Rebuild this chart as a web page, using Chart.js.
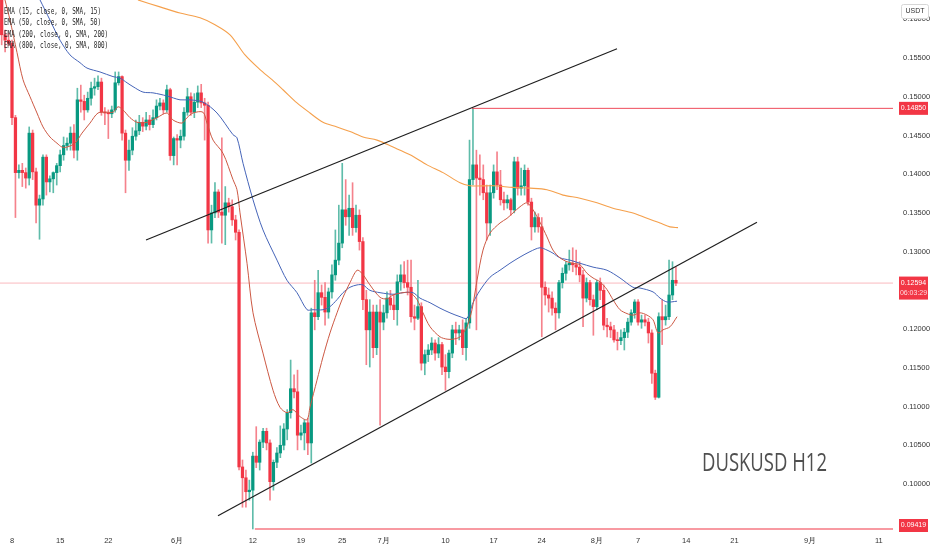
<!DOCTYPE html>
<html><head><meta charset="utf-8">
<script src="https://cdn.jsdelivr.net/npm/chart.js@4.4.1/dist/chart.umd.min.js"></script>
<style>html,body{margin:0;padding:0;background:#fff;}#wrap{width:932px;height:550px;position:relative;}</style>
</head><body><div id="wrap"><canvas id="c"></canvas></div>
<script>
// time axis: days counted from 8 May; one candle every 12 hours
const firstDay = -1.5;
const barStep = 0.5;

const openP = [.1640,.1580,.1573,.1569,.1473,.1402,.1405,.1402,.1395,.1453,.1403,.1360,.1368,.1422,.1390,.1394,.1402,.1411,.1425,.1437,
.1440,.1453,.1431,.1496,.1494,.1483,.1498,.1511,.1513,.1519,.1480,.1479,.1478,.1483,.1518,.1526,.1453,.1418,.1431,.1449,
.1456,.1467,.1462,.1470,.1464,.1473,.1488,.1492,.1483,.1509,.1424,.1446,.1444,.1449,.1480,.1500,.1480,.1493,.1505,.1492,
.1489,.1328,.1350,.1377,.1351,.1347,.1363,.1358,.1341,.1325,.1022,.1008,.0990,.0992,.1036,.1028,.1054,.1068,.1053,.1003,
.1028,.1040,.1050,.1071,.1092,.1123,.1119,.1063,.1066,.1079,.1053,.1221,.1216,.1247,.1241,.1222,.1248,.1270,.1289,.1311,
.1354,.1345,.1356,.1331,.1347,.1313,.1238,.1199,.1222,.1176,.1222,.1209,.1221,.1240,.1231,.1225,.1261,.1270,.1260,.1254,
.1216,.1214,.1229,.1156,.1167,.1173,.1182,.1169,.1180,.1151,.1145,.1169,.1199,.1195,.1199,.1176,.1208,.1393,.1412,.1395,
.1393,.1376,.1337,.1376,.1403,.1386,.1367,.1363,.1367,.1354,.1416,.1382,.1385,.1405,.1364,.1332,.1344,.1332,.1254,.1244,
.1240,.1227,.1221,.1260,.1272,.1283,.1285,.1283,.1280,.1270,.1240,.1260,.1238,.1229,.1260,.1250,.1205,.1203,.1199,.1186,
.1185,.1189,.1196,.1209,.1221,.1235,.1209,.1212,.1209,.1195,.1143,.1112,.1216,.1212,.1216,.1244,.1263];

const highP = [.1644,.1586,.1582,.1573,.1476,.1412,.1414,.1408,.1461,.1457,.1408,.1373,.1425,.1425,.1398,.1403,.1414,.1431,.1448,.1447,
.1461,.1464,.1511,.1515,.1502,.1506,.1519,.1524,.1527,.1524,.1486,.1483,.1488,.1532,.1532,.1527,.1457,.1444,.1460,.1470,
.1476,.1473,.1480,.1476,.1483,.1496,.1498,.1496,.1515,.1511,.1448,.1451,.1457,.1486,.1511,.1505,.1504,.1514,.1516,.1498,
.1493,.1360,.1389,.1380,.1447,.1384,.1369,.1367,.1347,.1328,.1031,.1018,.1005,.1041,.1074,.1057,.1072,.1072,.1057,.1031,
.1047,.1075,.1078,.1096,.1160,.1141,.1147,.1076,.1083,.1085,.1227,.1263,.1276,.1257,.1260,.1253,.1283,.1328,.1360,.1414,
.1393,.1373,.1389,.1360,.1354,.1318,.1250,.1238,.1231,.1231,.1238,.1231,.1248,.1250,.1244,.1270,.1283,.1287,.1289,.1289,
.1231,.1263,.1234,.1173,.1180,.1189,.1186,.1189,.1183,.1167,.1173,.1205,.1209,.1205,.1212,.1214,.1444,.14850,.1431,.1425,
.1412,.1386,.1386,.1412,.1429,.1405,.1377,.1373,.1369,.1422,.1422,.1408,.1412,.1408,.1369,.1351,.1349,.1344,.1261,.1253,
.1248,.1234,.1263,.1279,.1287,.1302,.1305,.1302,.1287,.1276,.1266,.1263,.1244,.1263,.1266,.1257,.1214,.1209,.1205,.1196,
.1199,.1201,.1214,.1225,.1238,.1238,.1218,.1218,.1214,.1199,.1147,.1221,.1238,.1231,.1289,.1287,.1280];

const lowP = [.1567,.1558,.1566,.1464,.1344,.1395,.1384,.1382,.1386,.1393,.1337,.1316,.1360,.1373,.1377,.1376,.1386,.1403,.1418,.1431,
.1431,.1421,.1418,.1480,.1470,.1480,.1489,.1502,.1509,.1476,.1464,.1446,.1473,.1480,.1515,.1444,.1376,.1405,.1425,.1444,
.1451,.1455,.1457,.1457,.1460,.1470,.1483,.1478,.1480,.1418,.1412,.1412,.1434,.1444,.1476,.1476,.1473,.1486,.1486,.1444,
.1311,.1311,.1344,.1344,.1311,.1309,.1351,.1334,.1315,.1018,.0970,.0970,.0979,.09419,.1021,.1018,.1047,.1044,.0979,.0992,
.1021,.1034,.1044,.1057,.1085,.1111,.1044,.1057,.1044,.1038,.1027,.1199,.1212,.1231,.1205,.1214,.1240,.1263,.1283,.1305,
.1334,.1321,.1321,.1325,.1302,.1225,.1154,.1151,.1163,.1167,.1076,.1199,.1214,.1225,.1212,.1205,.1250,.1253,.1244,.1209,
.1199,.1212,.1147,.1141,.1158,.1167,.1160,.1163,.1141,.1121,.1137,.1163,.1180,.1186,.1167,.1160,.1201,.1386,.1199,.1373,
.1367,.1315,.1321,.1369,.1380,.1360,.1354,.1356,.1347,.1350,.1373,.1373,.1373,.1360,.1315,.1325,.1325,.1190,.1231,.1222,
.1218,.1199,.1214,.1253,.1263,.1276,.1274,.1270,.1261,.1203,.1235,.1231,.1192,.1225,.1238,.1199,.1190,.1189,.1183,.1173,
.1180,.1173,.1189,.1205,.1214,.1205,.1201,.1204,.1182,.1130,.1109,.1111,.1180,.1205,.1212,.1238,.1256];

const closeP = [.1580,.1573,.1569,.1473,.1402,.1405,.1402,.1395,.1453,.1403,.1360,.1368,.1422,.1390,.1394,.1402,.1411,.1425,.1437,.1440,
.1453,.1431,.1496,.1494,.1483,.1498,.1511,.1513,.1519,.1480,.1479,.1478,.1483,.1518,.1526,.1453,.1418,.1431,.1449,.1456,
.1467,.1462,.1470,.1464,.1473,.1488,.1492,.1483,.1509,.1424,.1446,.1444,.1449,.1480,.1500,.1480,.1493,.1505,.1492,.1489,
.1328,.1350,.1377,.1351,.1347,.1363,.1358,.1341,.1325,.1022,.1008,.0990,.0992,.1036,.1028,.1054,.1068,.1053,.1003,.1028,
.1040,.1050,.1071,.1092,.1123,.1119,.1063,.1066,.1079,.1053,.1221,.1216,.1247,.1241,.1222,.1248,.1270,.1289,.1311,.1354,
.1345,.1356,.1331,.1347,.1313,.1238,.1199,.1222,.1176,.1222,.1209,.1221,.1240,.1231,.1225,.1261,.1270,.1260,.1254,.1216,
.1214,.1229,.1156,.1167,.1173,.1182,.1169,.1180,.1151,.1145,.1169,.1199,.1195,.1199,.1176,.1208,.1393,.1412,.1395,.1393,
.1376,.1337,.1376,.1403,.1386,.1367,.1363,.1367,.1354,.1416,.1382,.1385,.1405,.1364,.1332,.1344,.1332,.1254,.1244,.1240,
.1227,.1221,.1260,.1272,.1283,.1285,.1283,.1280,.1270,.1240,.1260,.1238,.1229,.1260,.1250,.1205,.1203,.1199,.1186,.1185,
.1189,.1196,.1209,.1221,.1235,.1209,.1212,.1209,.1195,.1143,.1112,.1216,.1212,.1216,.1244,.1263,.12594];

const ema15Days = [-1.02,-0.29,0.73,1.60,2.62,3.63,4.51,5.52,6.54,7.27,7.99,9.16,10.17,11.34,12.50,13.81,14.68,15.41,16.13,17.15,18.17,19.62,21.08,22.53,23.40,24.71,25.44,26.31,27.76,28.34,29.22,30.67,32.12,32.70,33.14,34.16,35.03,36.48,37.94,38.95,39.97,40.84,41.86,42.88,43.31,44.33,45.20,46.22,47.24,48.11,49.13,50.15,50.87,52.03,53.49,54.51,55.38,56.83,57.85,58.87,59.74,60.76,62.21,63.23,64.10,65.12,66.13,66.86,67.59,68.46,69.48,70.93,71.95,72.82,73.84,74.85,75.73,76.74,77.76,78.63,79.65,80.67,81.54,82.56,83.58,84.45,85.47,86.48,87.35,88.37,89.39,90.26,91.28,92.30,93.17,93.90,94.62,95.64,96.66];
const ema15Vals = [.1625,.1599,.1557,.1522,.1500,.1479,.1461,.1448,.1440,.1435,.1435,.1440,.1453,.1466,.1479,.1480,.1480,.1487,.1483,.1473,.1467,.1467,.1473,.1479,.1470,.1466,.1473,.1479,.1480,.1466,.1444,.1427,.1393,.1380,.1350,.1285,.1221,.1169,.1121,.1099,.1092,.1096,.1087,.1083,.1099,.1134,.1164,.1195,.1221,.1241,.1260,.1276,.1272,.1257,.1241,.1239,.1244,.1247,.1247,.1238,.1221,.1203,.1190,.1187,.1187,.1190,.1203,.1225,.1263,.1302,.1324,.1337,.1343,.1350,.1358,.1363,.1354,.1338,.1319,.1302,.1292,.1287,.1285,.1283,.1272,.1266,.1261,.1251,.1238,.1225,.1220,.1218,.1221,.1218,.1212,.1195,.1199,.1203,.1216];

const ema50Days = [4.07,5.52,6.98,8.43,9.88,10.90,12.79,14.68,15.70,16.72,17.59,19.04,20.49,22.53,24.42,25.87,27.76,29.80,32.12,32.70,33.58,35.03,36.48,38.52,39.97,41.42,42.88,43.75,45.20,46.22,47.24,48.11,49.13,50.15,51.02,52.03,53.49,55.38,56.83,58.28,59.30,60.76,62.21,63.66,65.12,66.13,67.01,68.02,69.48,70.93,72.38,73.84,75.29,76.74,77.76,78.63,79.65,81.10,82.56,84.45,86.48,88.37,90.26,91.28,93.17,94.19,95.20,96.66];
const ema50Vals = [.1625,.1599,.1573,.1554,.1544,.1537,.1532,.1526,.1524,.1518,.1513,.1506,.1505,.1501,.1496,.1496,.1493,.1479,.1451,.1447,.1414,.1367,.1328,.1289,.1263,.1247,.1225,.1225,.1225,.1229,.1238,.1247,.1254,.1257,.1257,.1250,.1247,.1245,.1247,.1247,.1240,.1234,.1227,.1221,.1216,.1214,.1234,.1250,.1267,.1276,.1285,.1293,.1300,.1305,.1302,.1298,.1292,.1289,.1285,.1280,.1276,.1266,.1254,.1253,.1248,.1240,.1235,.1236];

const ema200Days = [18.31,21.51,24.42,27.33,29.51,31.69,33.87,36.05,37.79,39.39,41.42,43.31,45.20,47.24,49.13,51.02,53.05,55.38,57.85,60.32,62.65,65.12,66.57,69.91,72.82,75.29,77.76,80.09,82.56,85.03,87.35,90.26,92.30,94.19,95.64,96.80];
const ema200Vals = [.1625,.1616,.1608,.1602,.1593,.1580,.1554,.1535,.1522,.1509,.1492,.1479,.1467,.1461,.1455,.1448,.1444,.1435,.1425,.1412,.1402,.1389,.1385,.1385,.1383,.1382,.1380,.1373,.1369,.1363,.1356,.1350,.1343,.1337,.1332,.1331];

const trendUpperDays = [19.48, 87.94];
const trendUpperVals = [.1315, .1562];
const trendLowerDays = [29.94, 108.28];
const trendLowerVals = [.0959, .1338];

const highLevel = 0.14850, highLevelFrom = 66.86;
const lowLevel = 0.09419, lowLevelFrom = 35.3;
const lastPrice = 0.12594;
const countdown = '06:03:29';

const xTickDays = [0,7,14,24,35,42,48,54,63,70,77,85,91,98,105,116,126];
const xTickLabels = ['8','15','22','6月','12','19','25','7月','10','17','24','8月','7','14','21','9月','11'];
const yTickValues = [0.100,0.105,0.110,0.115,0.120,0.130,0.135,0.140,0.145,0.150,0.155,0.160];

const legendLines = ['EMA (15, close, 0, SMA, 15)','EMA (50, close, 0, SMA, 50)','EMA (200, close, 0, SMA, 200)','EMA (800, close, 0, SMA, 800)'];
const titleText = 'DUSKUSD H12';

const X_MIN = -1.744, X_MAX = 128.05;
const UP = '#089981', DN = '#f23645', WICK_UP = '#5fbcaa', WICK_DN = '#f5828c';

const days = openP.map((_, i) => firstDay + barStep * i);
const isUp = i => closeP[i] >= openP[i];
const pts = (xs, ys) => xs.map((x, i) => ({x, y: ys[i]}));
const lineDs = (data, color, width, order, extra) => Object.assign({type:'line', data, borderColor: color, borderWidth: width, pointRadius: 0, fill: false, order, tension: 0}, extra || {});

const overlay = {
  id: 'overlay',
  afterDraw(chart) {
    const ctx = chart.ctx, ys = chart.scales.y;
    ctx.save();
    // legend text
    ctx.fillStyle = '#262626';
    ctx.font = '9px "DejaVu Sans Mono"';
    ctx.textBaseline = 'middle';
    ctx.textAlign = 'left';
    const sx = 97 / ctx.measureText(legendLines[0]).width;
    legendLines.forEach((t, k) => { ctx.save(); ctx.translate(4, 12 + k * 11.1); ctx.scale(sx, 1); ctx.fillText(t, 0, 0); ctx.restore(); });
    // title
    ctx.font = '25px "Open Sans"';
    ctx.fillStyle = '#4f4f4f';
    ctx.textBaseline = 'alphabetic';
    const tw = ctx.measureText(titleText).width;
    ctx.save(); ctx.translate(702, 471); ctx.scale(125 / tw, 1); ctx.fillText(titleText, 0, 0); ctx.restore();
    // price tags
    const bottom = chart.chartArea.bottom;
    const tag = (v, lines) => {
      const h = lines.length === 1 ? 13 : 23;
      let top = ys.getPixelForValue(v) - 6.5;
      if (top + h > bottom) top = bottom - h;
      ctx.fillStyle = DN;
      ctx.fillRect(899, top, 29, h);
      ctx.font = '7px "Liberation Sans"';
      ctx.textAlign = 'center';
      ctx.textBaseline = 'middle';
      lines.forEach((t, k) => { ctx.fillStyle = k === 0 ? '#ffffff' : '#ffd9dc'; ctx.fillText(t, 913.5, top + 6.5 + k * 10); });
    };
    tag(highLevel, [highLevel.toFixed(5)]);
    tag(lastPrice, [lastPrice.toFixed(5), countdown]);
    tag(lowLevel, [lowLevel.toFixed(5)]);
    // currency box
    ctx.fillStyle = '#ffffff';
    ctx.strokeStyle = '#d6d6d6';
    ctx.lineWidth = 1;
    ctx.beginPath(); ctx.roundRect(901.5, 4.5, 27, 14, 2); ctx.fill(); ctx.stroke();
    ctx.fillStyle = '#333';
    ctx.font = '7px "Liberation Sans"';
    ctx.textAlign = 'center';
    ctx.textBaseline = 'middle';
    ctx.fillText('USDT', 915, 11.5);
    ctx.restore();
  }
};

new Chart(document.getElementById('c'), {
  type: 'bar',
  data: {
    datasets: [
      lineDs(pts([X_MIN, X_MAX], [lastPrice, lastPrice]), 'rgba(242,54,69,0.35)', 1, 30),
      {type:'bar', data: days.map((d, i) => ({x: d, y: [lowP[i], highP[i]]})), backgroundColor: c => isUp(c.dataIndex) ? WICK_UP : WICK_DN, barThickness: 1, grouped: false, borderWidth: 0, order: 21},
      {type:'bar', data: days.map((d, i) => ({x: d, y: [openP[i], closeP[i]]})), backgroundColor: c => isUp(c.dataIndex) ? UP : DN, barThickness: 2.6, grouped: false, minBarLength: 1, borderWidth: 0, order: 20},
      lineDs(pts(ema200Days, ema200Vals), '#f5a04c', 1.1, 6, {tension: 0.3}),
      lineDs(pts(ema50Days, ema50Vals), '#4564b8', 1, 5, {tension: 0.3}),
      lineDs(pts(ema15Days, ema15Vals), '#cc5843', 1, 4, {tension: 0.3}),
      lineDs(pts([highLevelFrom, X_MAX], [highLevel, highLevel]), '#ef4b5a', 1, 3),
      lineDs(pts([lowLevelFrom, X_MAX], [lowLevel, lowLevel]), 'rgba(242,54,69,0.5)', 2, 3),
      lineDs(pts(trendUpperDays, trendUpperVals), '#1e1e1e', 1.2, 1),
      lineDs(pts(trendLowerDays, trendLowerVals), '#1e1e1e', 1.2, 1)
    ]
  },
  options: {
    responsive: true,
    maintainAspectRatio: false,
    animation: false,
    events: [],
    layout: {padding: 0},
    plugins: {legend: {display: false}, tooltip: {enabled: false}},
    scales: {
      x: {
        type: 'linear', min: X_MIN, max: X_MAX, offset: false,
        grid: {display: false, drawTicks: false}, border: {display: false},
        afterBuildTicks: s => { s.ticks = xTickDays.map(v => ({value: v})); },
        afterFit: s => { s.height = 18; s.paddingLeft = 0; s.paddingRight = 0; },
        ticks: {autoSkip: false, maxRotation: 0, padding: 4, color: '#333', font: {size: 7.5, family: 'Liberation Sans'},
          callback: (v, idx) => xTickLabels[idx]}
      },
      y: {
        type: 'linear', position: 'right', min: 0.0938, max: 0.16249, beginAtZero: false,
        grid: {display: false, drawTicks: false}, border: {display: false},
        afterBuildTicks: s => { s.ticks = yTickValues.map(v => ({value: v})); },
        afterFit: s => { s.width = 39; s.paddingTop = 0; s.paddingBottom = 0; },
        ticks: {padding: 10, color: '#333', font: {size: 7.5, family: 'Liberation Sans'},
          callback: v => Number(v).toFixed(5)}
      }
    }
  },
  plugins: [overlay]
});
</script>
</body></html>
